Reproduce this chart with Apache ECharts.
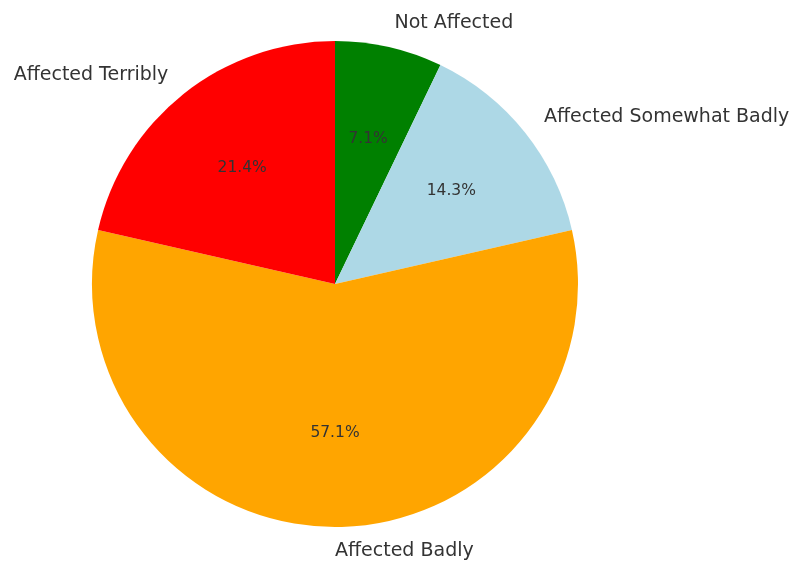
<!DOCTYPE html>
<html>
<head>
<meta charset="utf-8">
<script src="https://cdn.jsdelivr.net/npm/echarts@6/dist/echarts.min.js"></script>
<style>
html, body { margin: 0; padding: 0; background: #fff; }
#chart { width: 792px; height: 562px; }
</style>
</head>
<body>
<div id="chart"></div>
<script>
// slices go clockwise from 12 o'clock
var categories = ['Not Affected', 'Affected Somewhat Badly', 'Affected Badly', 'Affected Terribly'];
var counts = [1, 2, 8, 3];
var colors = ['#008000', '#add8e6', '#ffa500', '#ff0000'];

var R = 243;
var total = counts.reduce(function(a, b) { return a + b; }, 0);

var sliceData = categories.map(function(name, i) {
	return { name: name, value: counts[i], itemStyle: { color: colors[i] } };
});

var chart = echarts.init(document.getElementById('chart'), null, { renderer: 'canvas' });
var option = {
	backgroundColor: '#fff',
	animation: false,
	series: [{
		// pie + outer category labels
		type: 'pie',
		center: [335, 284],
		radius: [0, R],
		startAngle: 90,
		clockwise: true,
		avoidLabelOverlap: false,
		data: sliceData,
		label: {
			show: true,
			position: 'outside',
			formatter: '{b}',
			fontFamily: 'DejaVu Sans',
			fontSize: 19,
			color: '#333',
			distanceToLabelLine: 0
		},
		labelLine: {
			show: false,
			length: R * 0.1,
			length2: 0
		},
		emphasis: { disabled: true }
	}, {
		// percentages, sitting at 0.6 * R
		type: 'pie',
		center: [335, 284],
		radius: [R * 0.6 - 1, R * 0.6 + 1],
		startAngle: 90,
		clockwise: true,
		silent: true,
		data: sliceData.map(function(d) {
			return { name: d.name, value: d.value, itemStyle: { color: 'rgba(0,0,0,0)' } };
		}),
		label: {
			show: true,
			position: 'inside',
			formatter: function(p) {
				return (p.value / total * 100).toFixed(1) + '%';
			},
			fontFamily: 'DejaVu Sans',
			fontSize: 15.5,
			color: '#333'
		},
		labelLine: { show: false },
		emphasis: { disabled: true }
	}]
};
chart.setOption(option);
</script>
</body>
</html>
